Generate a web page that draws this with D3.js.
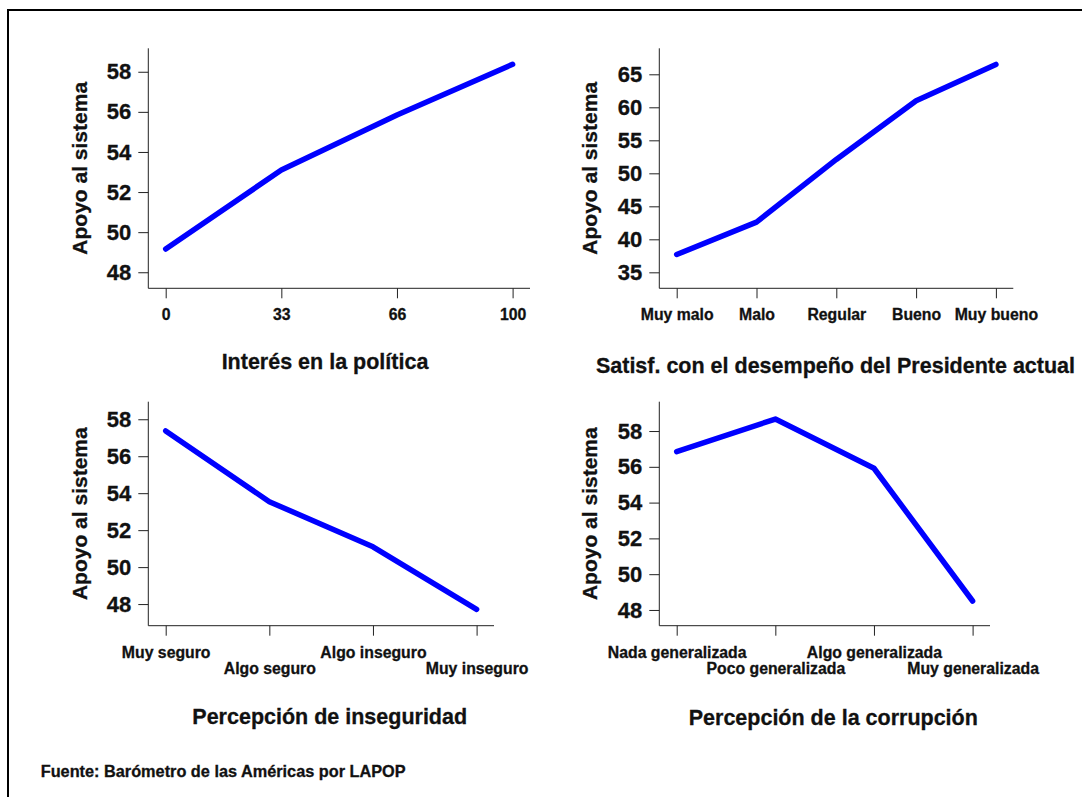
<!DOCTYPE html>
<html>
<head>
<meta charset="utf-8">
<script src="https://cdn.jsdelivr.net/npm/d3@7"></script>
<style>
  body { margin: 0; background: #fff; }
  svg text { font-family: "Liberation Sans", Arial, sans-serif; font-weight: bold; fill: #111; stroke: #111; stroke-width: 0.3px; }
</style>
</head>
<body>
<svg id="chart" width="1082" height="797"></svg>
<script>
// datos
const yLabel = "Apoyo al sistema";

const interesCats = ["0", "33", "66", "100"];
const interesVals = [49.16, 53.10, 55.84, 58.37];
const interesTicks = [48, 50, 52, 54, 56, 58];

const satisfCats = ["Muy malo", "Malo", "Regular", "Bueno", "Muy bueno"];
const satisfVals = [37.7, 42.6, 52.1, 61.0, 66.5];
const satisfTicks = [35, 40, 45, 50, 55, 60, 65];

const insegCats = ["Muy seguro", "Algo seguro", "Algo inseguro", "Muy inseguro"];
const insegVals = [57.37, 53.54, 51.10, 47.71];
const insegTicks = [48, 50, 52, 54, 56, 58];

const corrupCats = ["Nada generalizada", "Poco generalizada", "Algo generalizada", "Muy generalizada"];
const corrupVals = [56.85, 58.67, 55.92, 48.50];
const corrupTicks = [48, 50, 52, 54, 56, 58];

const sourceNote = "Fuente: Barómetro de las Américas por LAPOP";

// paneles: datos + posicion en la pagina
const panels = [
    { title: "Interés en la política", cats: interesCats, vals: interesVals, ticks: interesTicks,
      yDomain: [47.2, 59.17], left: 148.3, right: 530, top: 48.3, bottom: 288.3,
      titleX: 325, titleY: 368.5, yTitleX: 86.5, stagger: false },
    { title: "Satisf. con el desempeño del Presidente actual", cats: satisfCats, vals: satisfVals, ticks: satisfTicks,
      yDomain: [32.58, 68.94], left: 659.3, right: 1013.3, top: 48.3, bottom: 288.3,
      titleX: 835.5, titleY: 373.3, yTitleX: 597, stagger: false },
    { title: "Percepción de inseguridad", cats: insegCats, vals: insegVals, ticks: insegTicks,
      yDomain: [46.83, 58.95], left: 148.3, right: 494, top: 401.7, bottom: 625.7,
      titleX: 329.7, titleY: 724.3, yTitleX: 86.5, stagger: true },
    { title: "Percepción de la corrupción", cats: corrupCats, vals: corrupVals, ticks: corrupTicks,
      yDomain: [47.12, 59.64], left: 659.3, right: 990, top: 401.7, bottom: 625.7,
      titleX: 833.3, titleY: 725, yTitleX: 597, stagger: true }
];

const svg = d3.select("#chart");

// marco exterior (se sale por la derecha y abajo)
svg.append("rect")
    .attr("x", 8)
    .attr("y", 10)
    .attr("width", 1200)
    .attr("height", 900)
    .attr("fill", "none")
    .attr("stroke", "#000")
    .attr("stroke-width", 2);

const inset = 17.4;

panels.forEach(p => {
    const g = svg.append("g");

    const x = d3.scalePoint()
        .domain(p.cats)
        .range([p.left + inset, p.right - inset]);

    const y = d3.scaleLinear()
        .domain(p.yDomain)
        .range([p.bottom, p.top]);

    // eje Y
    const yAxis = g.append("g")
        .attr("transform", `translate(${p.left},0)`)
        .call(d3.axisLeft(y).tickValues(p.ticks).tickSize(10).tickPadding(7).tickSizeOuter(0));
    yAxis.select(".domain").remove();
    yAxis.append("line")
        .attr("x1", 0).attr("x2", 0)
        .attr("y1", p.top).attr("y2", p.bottom)
        .attr("stroke", "#222");
    yAxis.selectAll(".tick line").attr("stroke", "#222");
    yAxis.selectAll("text")
        .style("font-size", "22px")
        .attr("fill", "#111");

    // eje X
    const xAxis = g.append("g")
        .attr("transform", `translate(0,${p.bottom})`)
        .call(d3.axisBottom(x).tickSize(10).tickSizeOuter(0));
    xAxis.select(".domain").remove();
    xAxis.append("line")
        .attr("x1", p.left).attr("x2", p.right)
        .attr("y1", 0).attr("y2", 0)
        .attr("stroke", "#222");
    xAxis.selectAll(".tick line").attr("stroke", "#222");
    xAxis.selectAll("text")
        .style("font-size", "15.8px")
        .attr("fill", "#111")
        .attr("dy", null)
        .attr("y", (d, i) => p.stagger ? (i % 2 === 0 ? 32.6 : 48.6) : 31.7);

    // titulo eje Y
    g.append("text")
        .attr("transform", `translate(${p.yTitleX},${(p.top + p.bottom) / 2}) rotate(-90)`)
        .attr("text-anchor", "middle")
        .style("font-size", "21px")
        .text(yLabel);

    // titulo eje X
    g.append("text")
        .attr("x", p.titleX)
        .attr("y", p.titleY)
        .attr("text-anchor", "middle")
        .style("font-size", "21.5px")
        .text(p.title);

    // linea
    const line = d3.line()
        .x((d, i) => x(p.cats[i]))
        .y(d => y(d));

    g.append("path")
        .datum(p.vals)
        .attr("d", line)
        .attr("fill", "none")
        .attr("stroke", "#0000ff")
        .attr("stroke-width", 5.5)
        .attr("stroke-linecap", "round")
        .attr("stroke-linejoin", "round");
});

// nota de fuente
svg.append("text")
    .attr("x", 40.7)
    .attr("y", 776.7)
    .style("font-size", "16.3px")
    .text(sourceNote);
</script>
</body>
</html>
